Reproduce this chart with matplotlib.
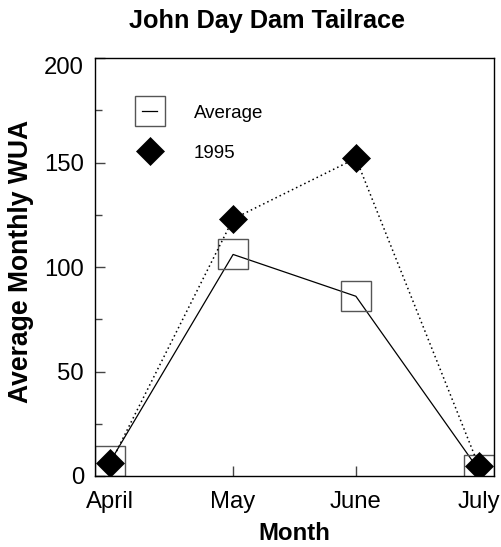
import matplotlib
matplotlib.use("Agg")
import matplotlib.pyplot as plt
from matplotlib.ticker import MultipleLocator
from matplotlib.transforms import ScaledTranslation

plt.rcParams['font.family'] = ['Liberation Sans', 'DejaVu Sans']

months = ["April", "May", "June", "July"]
average_wua = [7, 106, 86, 3]
wua_1995 = [6, 123, 152, 5]
y_ticks = [0, 50, 100, 150, 200]

fig = plt.figure(figsize=(5.02, 5.47), dpi=100)
ax = fig.add_axes([95 / 502, 1 - 476 / 547, 399 / 502, 418 / 547])

x = list(range(len(months)))

ax.plot(x, average_wua, color="black", linewidth=0.9, linestyle="-",
        marker="s", markersize=21, markerfacecolor="none",
        markeredgecolor="#555555", markeredgewidth=1.0, label="Average")
ax.plot(x, wua_1995, color="black", linewidth=1.1, linestyle=(0, (1, 2)),
        marker="D", markersize=14.5, markerfacecolor="black",
        markeredgecolor="black", markeredgewidth=0.5, label="1995")

ax.set_xlim(-0.125, 3.125)
ax.set_ylim(0, 200)
ax.set_xticks(x)
ax.set_xticklabels(months)
ax.set_yticks(y_ticks)
ax.yaxis.set_minor_locator(MultipleLocator(25))

for side in ["top", "right", "left", "bottom"]:
    ax.spines[side].set_linewidth(1.0)
    ax.spines[side].set_color("black")

ax.tick_params(axis="both", which="major", direction="in", labelsize=17.2,
               length=7, width=1.0, color="#444444")
ax.tick_params(axis="y", which="major", pad=8)
ax.tick_params(axis="x", which="major", pad=11)
ax.tick_params(axis="y", which="minor", direction="in", length=5, width=1.0,
               color="#444444")

# keep the top value label clear of the frame corner
fig.canvas.draw()
top_label = ax.get_yticklabels()[-1]
top_label.set_transform(top_label.get_transform()
                        + ScaledTranslation(0, -7 / 100, fig.dpi_scale_trans))

ax.set_xlabel("Month", fontsize=17.3, fontweight="bold", labelpad=6)

fig.text(21 / 502, 1 - 261 / 547, "Average Monthly WUA", rotation=90,
         fontsize=19.1, fontweight="bold", ha="center", va="center")
fig.text(267.5 / 502, 1 - 28 / 547, "John Day Dam Tailrace",
         fontsize=18.2, fontweight="bold", ha="center", va="baseline")

ax.legend(loc="upper left", bbox_to_anchor=(0.085, 0.92), frameon=False,
          fontsize=13.5, handlelength=0.8, handletextpad=1.96,
          labelspacing=1.22, borderpad=0.2)

fig.savefig("out.png", dpi=100)
